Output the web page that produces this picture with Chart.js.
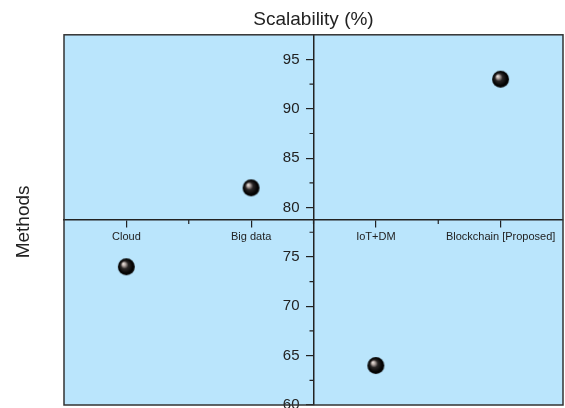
<!DOCTYPE html>
<html><head><meta charset="utf-8">
<script src="https://cdn.jsdelivr.net/npm/chart.js@4/dist/chart.umd.min.js"></script>
<style>html,body{margin:0;padding:0;background:#fff;overflow:hidden}#wrap{width:565px;height:408px;}</style>
</head><body><div id="wrap"><canvas id="c" width="565" height="408"></canvas></div>
<script>
const categories = ['Cloud', 'Big data', 'IoT+DM', 'Blockchain [Proposed]'];
const scalability = [74, 82, 64, 93];
const yTicks = [60, 65, 70, 75, 80, 85, 90, 95];
const yMinorTicks = [62.5, 67.5, 72.5, 77.5, 82.5, 87.5, 92.5];
const xMinorTicks = [1.5, 2.5, 3.5];
const yRange = [60, 97.5];
const xRange = [0.5, 4.5];
const xAxisCross = 78.75;
const yAxisCross = 2.5;

const FONT = '"Liberation Sans", Arial, sans-serif';

function makeSphere(r) {
  const s = r * 2 + 2;
  const cv = document.createElement('canvas');
  cv.width = s; cv.height = s;
  const g = cv.getContext('2d');
  const c = s / 2;
  const grad = g.createRadialGradient(c - r * 0.38, c - r * 0.38, 0, c, c, r);
  grad.addColorStop(0, '#f6f1ec');
  grad.addColorStop(0.2, '#b5a8a4');
  grad.addColorStop(0.45, '#2a2626');
  grad.addColorStop(0.85, '#000000');
  grad.addColorStop(1, '#141414');
  g.fillStyle = grad;
  g.beginPath(); g.arc(c, c, r, 0, Math.PI * 2); g.fill();
  return cv;
}

const noPad = s => { s.paddingLeft = 0; s.paddingRight = 0; s.paddingTop = 0; s.paddingBottom = 0; };

const framePlugin = {
  id: 'frame',
  beforeDraw(chart) {
    const {ctx, chartArea: a} = chart;
    ctx.save();
    ctx.fillStyle = '#bae5fc';
    ctx.fillRect(a.left, a.top, a.right - a.left, a.bottom - a.top);
    ctx.restore();
  },
  afterDraw(chart) {
    const {ctx, chartArea: a, scales} = chart;
    const xs = scales.x, ys = scales.y;
    const axisY = ys.getPixelForValue(xAxisCross);
    const axisX = xs.getPixelForValue(yAxisCross);
    ctx.save();
    ctx.lineWidth = 1.2;
    ctx.strokeStyle = '#222';
    ctx.beginPath();
    xMinorTicks.forEach(v => { const px = xs.getPixelForValue(v); ctx.moveTo(px, axisY); ctx.lineTo(px, axisY + 4); });
    yMinorTicks.forEach(v => { const py = ys.getPixelForValue(v); ctx.moveTo(axisX, py); ctx.lineTo(axisX - 4, py); });
    ctx.stroke();
    ctx.font = '15px ' + FONT;
    ctx.fillStyle = '#222';
    ctx.textAlign = 'right';
    ctx.textBaseline = 'middle';
    ys.ticks.forEach(t => { ctx.fillText(String(t.value), axisX - 14, ys.getPixelForValue(t.value)); });
    ctx.strokeStyle = '#333';
    ctx.lineWidth = 1.5;
    ctx.strokeRect(a.left, a.top, a.right - a.left, a.bottom - a.top);
    ctx.translate(24, (a.top + a.bottom) / 2 + 2);
    ctx.rotate(-Math.PI / 2);
    ctx.font = '19px ' + FONT;
    ctx.textAlign = 'center';
    ctx.fillText('Methods', 0, 0);
    ctx.restore();
  }
};

const sphere = makeSphere(8.5);

new Chart(document.getElementById('c'), {
  type: 'scatter',
  data: {
    datasets: [{
      label: 'Scalability (%)',
      data: categories.map((c, i) => ({x: i + 1, y: scalability[i]})),
      pointStyle: sphere,
      pointRadius: 9,
      pointHoverRadius: 9
    }]
  },
  options: {
    responsive: false,
    animation: false,
    devicePixelRatio: 1,
    layout: {autoPadding: false, padding: {left: 64, right: 2, top: 0, bottom: 3}},
    plugins: {
      legend: {display: false},
      tooltip: {enabled: false},
      title: {
        display: true,
        text: 'Scalability (%)',
        color: '#222',
        font: {family: FONT, size: 19, weight: 'normal'},
        padding: {top: 8, bottom: 4}
      }
    },
    scales: {
      x: {
        type: 'linear',
        min: xRange[0], max: xRange[1],
        position: {y: xAxisCross},
        afterBuildTicks: s => { s.ticks = categories.map((c, i) => ({value: i + 1})); },
        afterFit: noPad,
        ticks: {
          callback: v => categories[Math.round(v) - 1] || '',
          font: {family: FONT, size: 11},
          color: '#222',
          padding: 3,
          maxRotation: 0,
          autoSkip: false
        },
        grid: {drawOnChartArea: false, drawTicks: true, tickLength: 7, color: '#222', lineWidth: 1.2},
        border: {display: true, color: '#222', width: 1.5}
      },
      y: {
        type: 'linear',
        min: yRange[0], max: yRange[1],
        position: {x: yAxisCross},
        afterBuildTicks: s => { s.ticks = yTicks.map(v => ({value: v})); },
        afterFit: noPad,
        ticks: {display: false},
        grid: {drawOnChartArea: false, drawTicks: true, tickLength: 7, color: '#222', lineWidth: 1.2},
        border: {display: true, color: '#222', width: 1.5}
      }
    }
  },
  plugins: [framePlugin]
});
</script>
</body></html>
